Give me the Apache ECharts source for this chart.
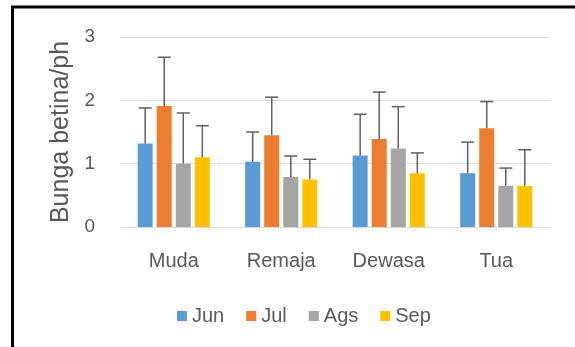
<!DOCTYPE html>
<html>
<head>
<meta charset="utf-8">
<script src="https://cdn.jsdelivr.net/npm/echarts@6/dist/echarts.min.js"></script>
<style>html,body{margin:0;padding:0;background:#fff;}#c{width:575px;height:347px;}</style>
</head>
<body>
<div id="c"></div>
<script>
var categories = ['Muda', 'Remaja', 'Dewasa', 'Tua'];
var seriesNames = ['Jun', 'Jul', 'Ags', 'Sep'];
var jun = [1.32, 1.03, 1.13, 0.85];
var jul = [1.91, 1.45, 1.39, 1.56];
var ags = [1.00, 0.79, 1.24, 0.65];
var sep = [1.10, 0.75, 0.85, 0.65];
// upper end of the error bars
var junTop = [1.88, 1.50, 1.78, 1.34];
var julTop = [2.68, 2.05, 2.13, 1.98];
var agsTop = [1.80, 1.12, 1.90, 0.93];
var sepTop = [1.60, 1.07, 1.17, 1.22];
var yTicks = [0, 1, 2, 3];

var colors = ['#5b9bd5', '#ed7d31', '#a5a5a5', '#ffc000'];
var values = [jun, jul, ags, sep];
var tops = [junTop, julTop, agsTop, sepTop];
var BAR_W = 15, BAR_GAP = 0.27;
var FONT = '"Liberation Sans", Arial, sans-serif';
var TXT = '#595959';

var errData = [];
for (var s = 0; s < 4; s++) {
  for (var c = 0; c < categories.length; c++) {
    errData.push([c, s, values[s][c], tops[s][c]]);
  }
}

var series = seriesNames.map(function (n, i) {
  return {
    name: n, type: 'bar', data: values[i], barWidth: BAR_W, barGap: (BAR_GAP * 100) + '%',
    itemStyle: { color: colors[i] }
  };
});
series.push({
  name: 'err', type: 'custom', data: errData, z: 5,
  encode: { x: 0, y: 2 },
  renderItem: function (params, api) {
    var cat = api.value(0), s = api.value(1);
    var base = api.coord([cat, api.value(2)]);
    var hi = api.coord([cat, api.value(3)]);
    var step = BAR_W * (1 + BAR_GAP);
    var x = base[0] + (s - 1.5) * step;
    var half = 6.5;
    var st = { stroke: '#606060', lineWidth: 1.5 };
    return {
      type: 'group',
      children: [
        { type: 'line', shape: { x1: x, y1: base[1], x2: x, y2: hi[1] }, style: st },
        { type: 'line', shape: { x1: x - half, y1: hi[1], x2: x + half, y2: hi[1] }, style: st }
      ]
    };
  }
});

var chart = echarts.init(document.getElementById('c'), null, { renderer: 'canvas' });
chart.setOption({
  animation: false,
  backgroundColor: '#fff',
  textStyle: { fontFamily: FONT },
  grid: { left: 120, right: 25, top: 37, bottom: 120 },
  legend: {
    data: seriesNames, left: 172, top: 301, itemWidth: 10, itemHeight: 10, itemGap: 22,
    icon: 'rect',
    textStyle: { fontFamily: FONT, fontSize: 20, color: TXT }
  },
  xAxis: {
    type: 'category', data: categories,
    axisLine: { show: true, lineStyle: { color: '#d9d9d9', width: 1 } },
    axisTick: { show: false },
    axisLabel: { fontFamily: FONT, fontSize: 20, color: TXT, margin: 24 }
  },
  yAxis: {
    type: 'value', min: yTicks[0], max: yTicks[yTicks.length - 1], interval: 1,
    name: 'Bunga betina/ph', nameLocation: 'middle', nameGap: 38,
    nameTextStyle: { fontFamily: FONT, fontSize: 25, color: TXT },
    axisLine: { show: false }, axisTick: { show: false },
    axisLabel: { fontFamily: FONT, fontSize: 19, color: TXT, margin: 25 },
    splitLine: { lineStyle: { color: '#d9d9d9', width: 1 } }
  },
  graphic: [{
    type: 'rect', silent: true, z: 100,
    shape: { x: 12.5, y: 7, width: 800, height: 600 },
    style: { fill: 'none', stroke: '#000', lineWidth: 3 }
  }],
  series: series
});
</script>
</body>
</html>
